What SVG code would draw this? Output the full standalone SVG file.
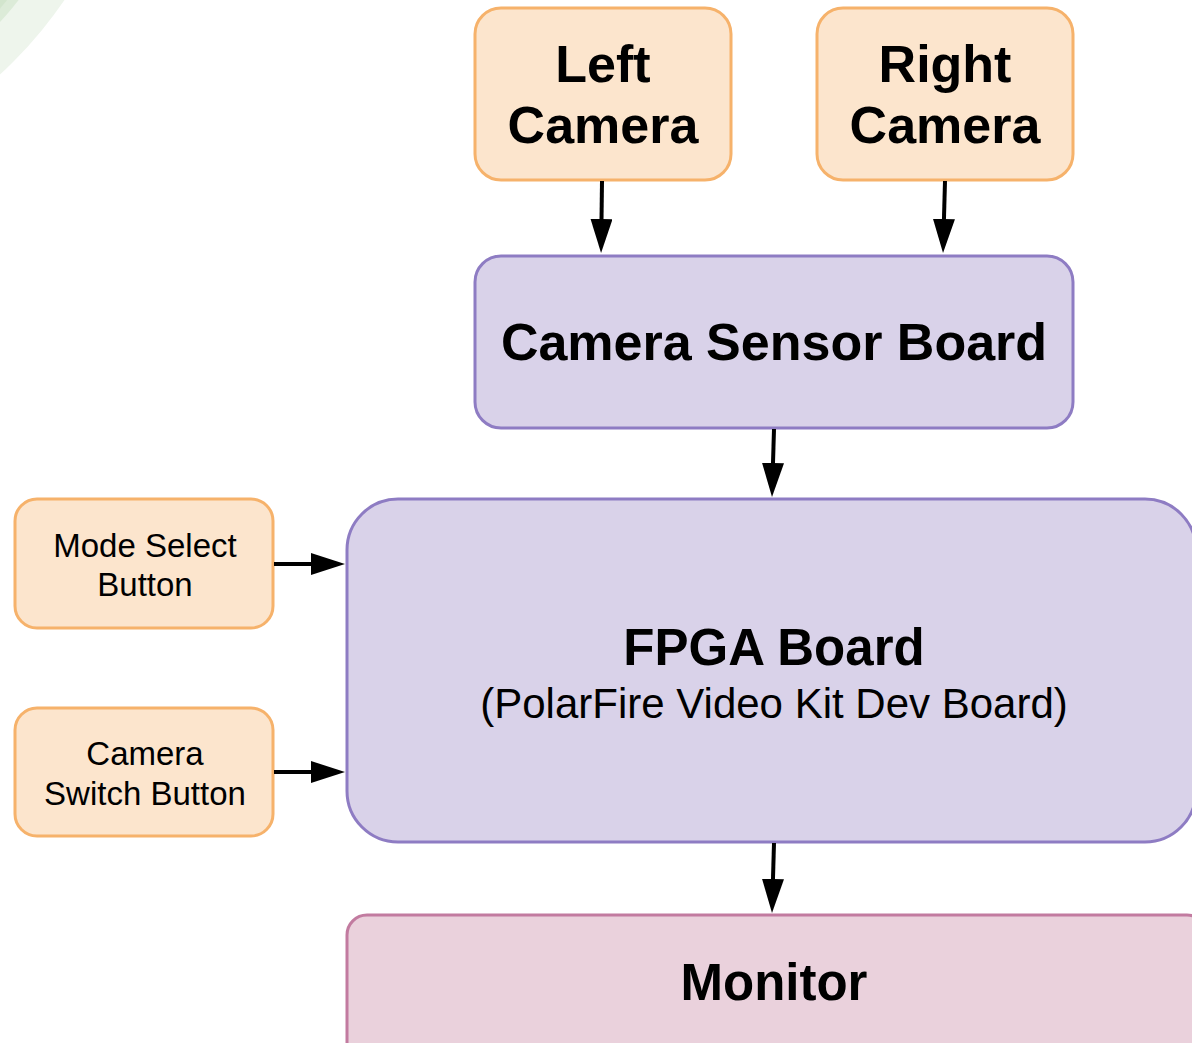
<svg xmlns="http://www.w3.org/2000/svg" width="1192" height="1043" viewBox="0 0 1192 1043">
<style>
.or{fill:#fce5cd;stroke:#f6b26b;stroke-width:3}
.pu{fill:#d9d2e9;stroke:#8e7cc3;stroke-width:3}
.pk{fill:#ead1dc;stroke:#c27ba0;stroke-width:3}
.t{font-family:"Liberation Sans",Arial,sans-serif;fill:#000;text-anchor:middle}
.b{font-weight:bold}
.c{stroke:#000;stroke-width:4;fill:none}
</style>
<defs>
<marker id="ah" markerWidth="34" markerHeight="22" refX="24" refY="11" orient="auto" markerUnits="userSpaceOnUse">
<path d="M0,0 L34,11 L0,22 Z" fill="#000"/>
</marker>
</defs>
<rect width="1192" height="1043" fill="#fff"/>
<g id="bg">
<circle cx="-300" cy="-250" r="442" fill="#eef5ec"/>
<circle cx="-300" cy="-250" r="405" fill="#dcebd8"/>
<circle cx="-300" cy="-250" r="396" fill="#d2e5cd"/>
</g>
<g id="left-camera">
<rect class="or" x="475" y="8" width="256" height="172" rx="26"/>
<text class="t b" x="603" y="82" font-size="52">Left</text>
<text class="t b" x="603" y="143" font-size="52">Camera</text>
</g>
<g id="right-camera">
<rect class="or" x="817" y="8" width="256" height="172" rx="26"/>
<text class="t b" x="945" y="82" font-size="52">Right</text>
<text class="t b" x="945" y="143" font-size="52">Camera</text>
</g>
<g id="camera-sensor-board">
<rect class="pu" x="475" y="256" width="598" height="172" rx="26"/>
<text class="t b" x="774" y="360" font-size="52">Camera Sensor Board</text>
</g>
<g id="mode-select">
<rect class="or" x="15" y="499" width="258" height="129" rx="22"/>
<text class="t" x="145" y="557" font-size="33">Mode Select</text>
<text class="t" x="145" y="596" font-size="33">Button</text>
</g>
<g id="camera-switch">
<rect class="or" x="15" y="708" width="258" height="128" rx="22"/>
<text class="t" x="145" y="765" font-size="33">Camera</text>
<text class="t" x="145" y="805" font-size="33">Switch Button</text>
</g>
<g id="fpga">
<rect class="pu" x="347" y="499" width="849" height="343" rx="51"/>
<text class="t b" x="774" y="665" font-size="51">FPGA Board</text>
<text class="t" x="774" y="718" font-size="42">(PolarFire Video Kit Dev Board)</text>
</g>
<g id="monitor">
<rect class="pk" x="347" y="915" width="860" height="150" rx="20"/>
<text class="t b" x="774" y="1000" font-size="51">Monitor</text>
</g>
<g id="connectors">
<line class="c" x1="602" y1="181" x2="601.2" y2="243" marker-end="url(#ah)"/>
<line class="c" x1="945" y1="181" x2="943.3" y2="243" marker-end="url(#ah)"/>
<line class="c" x1="774" y1="429" x2="772.3" y2="487" marker-end="url(#ah)"/>
<line class="c" x1="774" y1="843" x2="772.3" y2="903" marker-end="url(#ah)"/>
<line class="c" x1="274" y1="564" x2="335" y2="564" marker-end="url(#ah)"/>
<line class="c" x1="274" y1="772" x2="335" y2="772" marker-end="url(#ah)"/>
</g>
</svg>
